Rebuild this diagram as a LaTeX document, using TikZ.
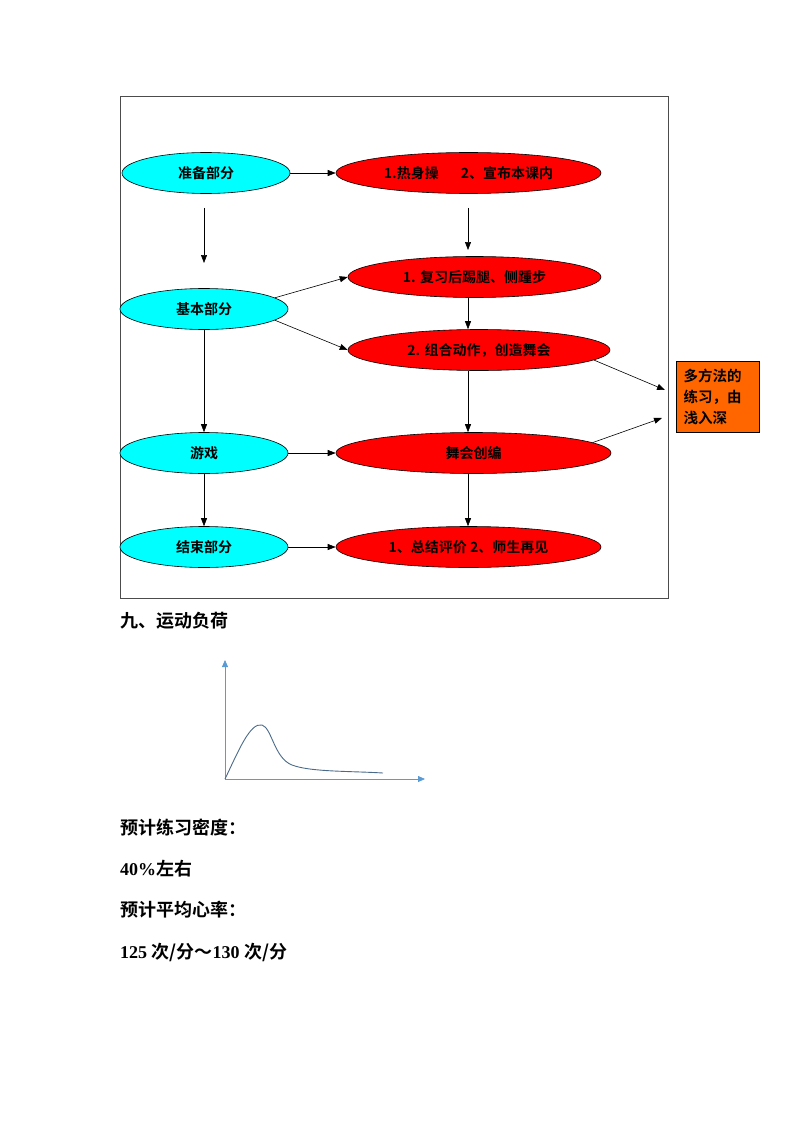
\documentclass[tikz,border=0pt]{standalone}
\usepackage{fontspec}
\setmainfont{Liberation Serif}
\newfontfamily\cjk{Noto Sans CJK SC}[BoldFont={* Bold}]
\usetikzlibrary{shapes.geometric,arrows.meta}
\newcommand{\zh}[1]{{\cjk\bfseries #1}}
\definecolor{partcyan}{HTML}{00FFFF}
\definecolor{axisblue}{HTML}{5B9BD5}
\definecolor{curvegray}{HTML}{4A6A8A}
\definecolor{noteorange}{HTML}{FF6600}

\begin{document}
\begin{tikzpicture}[
  x=1pt, y=-1pt,
  part/.style={ellipse, draw=black, fill=partcyan, line width=0.6pt, minimum width=168pt, minimum height=41pt, inner sep=0pt, font=\fontsize{14}{17}\selectfont\cjk\bfseries},
  content/.style={ellipse, draw=black, fill=red, line width=0.6pt, minimum height=41pt, inner sep=0pt, font=\fontsize{14}{17}\selectfont\cjk\bfseries},
  conn/.style={-{Triangle[length=8pt,width=6pt]}, line width=0.6pt},
  line/.style={anchor=west, inner sep=0pt, font=\fontsize{18}{22}\selectfont}
]
  \useasboundingbox (0,0) rectangle (794,1123);
  \draw[line width=0.6pt, black!70] (120,96) rectangle (668,598);

  % left column
  \node[part] (prep) at (206,173) {准备部分};
  \node[part] (basic) at (204,309) {基本部分};
  \node[part] (game) at (204,453) {游戏};
  \node[part] (end) at (204,547) {结束部分};

  % right column
  \node[content, minimum width=265pt] (warm) at (468.5,173) {1.热身操\hspace{22pt}2、宣布本课内};
  \node[content, minimum width=253pt] (kick) at (474.5,277) {1. 复习后踢腿、侧踵步};
  \node[content, minimum width=262pt] (combo) at (479,350) {2. 组合动作，创造舞会};
  \node[content, minimum width=275pt] (dance) at (473.5,453) {舞会创编};
  \node[content, minimum width=265pt] (close) at (468.5,547) {1、总结评价 2、师生再见};

  \node[draw=black, fill=noteorange, line width=0.6pt, minimum width=83pt, minimum height=71pt, text width=68pt, align=left, inner sep=0pt, font=\fontsize{14.5}{21}\selectfont\cjk\bfseries] (note) at (717.5,396.5) {多方法的\\练习，由\\浅入深};

  \coordinate (p1) at (204,208);
  \coordinate (p2) at (204,263);
  \coordinate (w1) at (468,208);
  \coordinate (w2) at (468,250);
  \coordinate (n1) at (665,390);
  \coordinate (n2) at (662,418);

  \draw[conn] (prep) -- (warm);
  \draw[conn] (p1) -- (p2);
  \draw[conn] (w1) -- (w2);
  \draw[conn] (basic.9) -- (kick.west);
  \draw[conn] (basic.-9) -- (combo.west);
  \draw[conn] (kick.south -| w1) -- (combo.north -| w1);
  \draw[conn] (basic.south -| p1) -- (game.north -| p1);
  \draw[conn] (combo.south -| w1) -- (dance.north -| w1);
  \draw[conn] (game) -- (dance);
  \draw[conn] (game.south -| p1) -- (end.north -| p1);
  \draw[conn] (dance.south -| w1) -- (close.north -| w1);
  \draw[conn] (end) -- (close);
  \draw[conn] (combo.-5) -- (n1);
  \draw[conn] (dance.5) -- (n2);

  % load curve
  \node[line] (title) at (120,621) {\zh{九、运动负荷}};
  \coordinate (o) at (225,779);
  \coordinate (ytop) at (225,660);
  \coordinate (xend) at (425,779);
  \draw[axisblue, line width=0.8pt, -{Triangle[length=7pt,width=6pt]}] (o) -- (ytop);
  \draw[axisblue, line width=0.8pt, -{Triangle[length=7pt,width=6pt]}] (o) -- (xend);
  \draw[curvegray, line width=0.9pt] (o) .. controls (238,752) and (250,722) .. (262,725)
    .. controls (272,728) and (274,758) .. (292,765)
    .. controls (310,772) and (350,771) .. (383,773);

  \node[line] (density) at (120,828) {\zh{预计练习密度：}};
  \node[line] (ratio) at (120,869) {\textbf{40\%}\zh{左右}};
  \node[line] (heart) at (120,910) {\zh{预计平均心率：}};
  \node[line] (rate) at (120,952) {\textbf{125} \zh{次/分～}\textbf{130} \zh{次/分}};
\end{tikzpicture}
\end{document}
